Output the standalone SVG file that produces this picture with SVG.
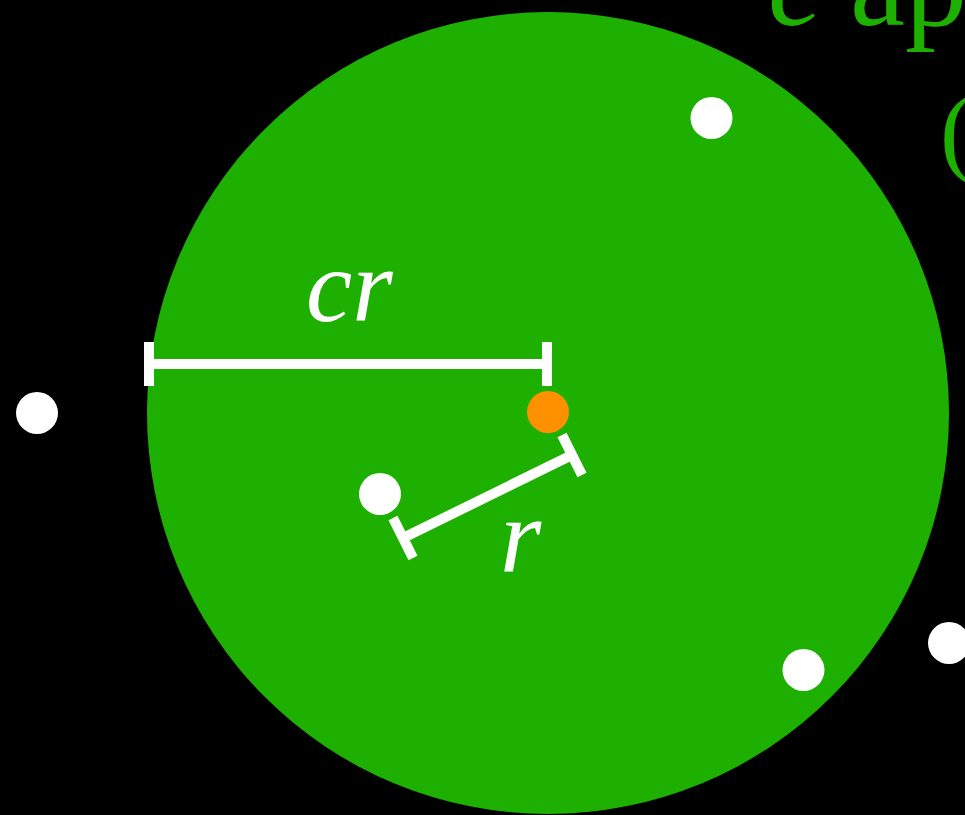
<svg xmlns="http://www.w3.org/2000/svg" width="965" height="815" viewBox="0 0 965 815">
<style>
.dot{fill:#ffffff}
.bar{stroke:#ffffff;stroke-width:10;fill:none}
.math{font-family:"Liberation Serif",serif;font-style:italic;fill:#ffffff}
.title{font-family:"Liberation Serif",serif;fill:#1eb000}
</style>
<rect x="0" y="0" width="965" height="815" fill="#000000"/>
<g id="ball"><circle cx="548" cy="413" r="401" fill="#1eb000"/></g>
<g id="title-text">
<text class="title" x="768" y="25" font-size="124" font-style="italic">c</text>
<text class="title" x="850" y="25" font-size="124">ap</text>
<text class="title" x="940" y="164" font-size="100">(</text>
</g>
<g id="connectors">
<g id="bar-cr">
<line class="bar" x1="149" y1="364" x2="547" y2="364"/>
<line class="bar" x1="149" y1="342" x2="149" y2="386"/>
<line class="bar" x1="547" y1="342" x2="547" y2="386"/>
</g>
<g id="bar-r">
<line class="bar" x1="403" y1="538" x2="572" y2="455"/>
<line class="bar" x1="393" y1="518" x2="413" y2="558"/>
<line class="bar" x1="562" y1="435" x2="582" y2="475"/>
</g>
</g>
<g id="label-cr"><text class="math" x="306" y="321" font-size="104">cr</text></g>
<g id="label-r"><text class="math" x="500" y="571" font-size="106">r</text></g>
<g id="center"><circle cx="548" cy="412" r="21" fill="#ff9100"/></g>
<g id="p1"><circle class="dot" cx="37" cy="413" r="21"/></g>
<g id="p2"><circle class="dot" cx="711.5" cy="118" r="21"/></g>
<g id="p3"><circle class="dot" cx="380" cy="494" r="21"/></g>
<g id="p4"><circle class="dot" cx="803.5" cy="670" r="21"/></g>
<g id="p5"><circle class="dot" cx="949" cy="643" r="21"/></g>
</svg>
